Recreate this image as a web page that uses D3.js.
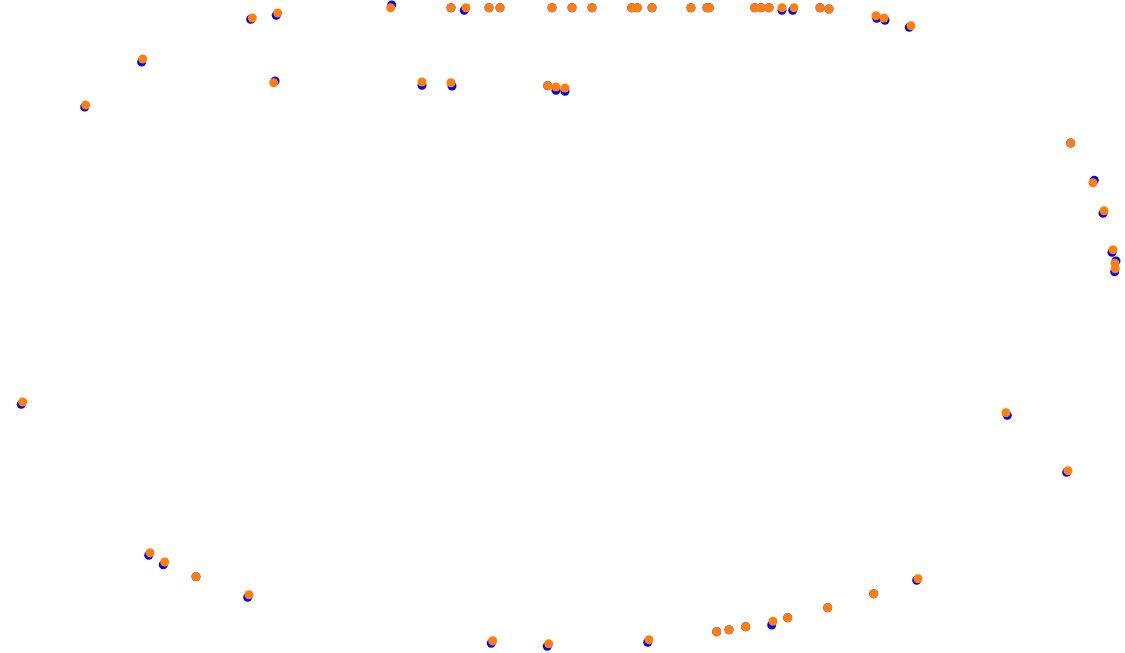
<!DOCTYPE html>
<html>
<head>
<meta charset="utf-8">
<script src="https://cdn.jsdelivr.net/npm/d3@7"></script>
<style>
  html, body { margin: 0; padding: 0; background: #fff; }
  svg { display: block; }
</style>
</head>
<body>
<svg id="chart" width="1125" height="653"></svg>
<script>
// Series A (orange) positions
const orangeX = [252.3, 277.7, 142.7, 273.7, 85.7, 390.7, 451, 466, 489, 500, 552, 572, 592, 631.7, 637.3, 652, 691, 707, 709.3,
  422, 451, 547.7, 556, 565, 754.7, 761, 769, 782, 794, 820, 829, 876, 884, 911,
  1070.7, 1093, 1104, 1113, 1115, 1115.3,
  22.7, 150, 164.7, 196, 249,
  492.7, 548.7, 649, 716.7, 729, 745.7, 773, 787.7, 827.7, 873.7, 918,
  1006, 1068];
const orangeY = [18, 13, 59, 82.7, 105, 7.7, 7.7, 7.7, 7.7, 7.7, 7.7, 7.7, 7.7, 7.7, 7.7, 7.7, 7.7, 7.7, 7.7,
  82, 82.7, 85.7, 87, 88, 7.7, 7.7, 7.7, 7.7, 7.7, 7.7, 9, 15.7, 18, 25.7,
  143, 182.7, 210.7, 249.7, 263.3, 268.7,
  402, 552.7, 562, 576.7, 594.7,
  640.7, 643.7, 639.7, 631.7, 629.7, 626.7, 621.3, 617.7, 607.7, 593.7, 578.7,
  412.7, 470.7];
// Series B (blue) positions
const blueX = [250.7, 276.3, 141.7, 275, 84.7, 391.7, 451, 464.3, 489, 500, 552, 572, 592, 631.7, 637.3, 652, 691, 707, 709.3,
  422, 452, 547.7, 556, 565, 754.7, 761, 769, 782, 792.7, 820, 829, 876.7, 885, 909.3,
  1070.7, 1094.3, 1103, 1112, 1116, 1114.7,
  21.3, 148.7, 163.3, 196, 247.7,
  491.3, 547.3, 647.7, 716.7, 729, 745.7, 771.7, 787.7, 827.7, 873.7, 916.7,
  1007.3, 1066.7];
const blueY = [19.3, 15.3, 62, 81, 107, 5, 7.7, 10.3, 7.7, 7.7, 7.7, 7.7, 7.7, 7.7, 7.7, 7.7, 7.7, 7.7, 7.7,
  85.3, 86, 85.7, 90.3, 91.3, 7.7, 7.7, 7.7, 10.3, 10.3, 7.7, 9, 18.3, 20.3, 27.3,
  143, 180.3, 213.3, 252.3, 261, 271.7,
  404.3, 555.3, 564.7, 576.7, 597.3,
  643.3, 646.3, 642.3, 631.7, 629.7, 626.7, 625, 617.7, 607.7, 593.7, 580.3,
  415.3, 472.3];

const W = 1125, H = 653;
const svg = d3.select("#chart");
const x = d3.scaleLinear().domain([0, 1125]).range([0, W]);
const y = d3.scaleLinear().domain([0, 653]).range([0, H]);

const blue = blueX.map((v, i) => ({x: v, y: blueY[i]}));
const orange = orangeX.map((v, i) => ({x: v, y: orangeY[i]}));

svg.append("g").selectAll("circle").data(blue).join("circle")
  .attr("cx", d => x(d.x)).attr("cy", d => y(d.y)).attr("r", 4.5)
  .attr("fill", "#0000ff");
svg.append("g").selectAll("circle").data(orange).join("circle")
  .attr("cx", d => x(d.x)).attr("cy", d => y(d.y)).attr("r", 4.5)
  .attr("fill", "#ff7f0e");
</script>
</body>
</html>
